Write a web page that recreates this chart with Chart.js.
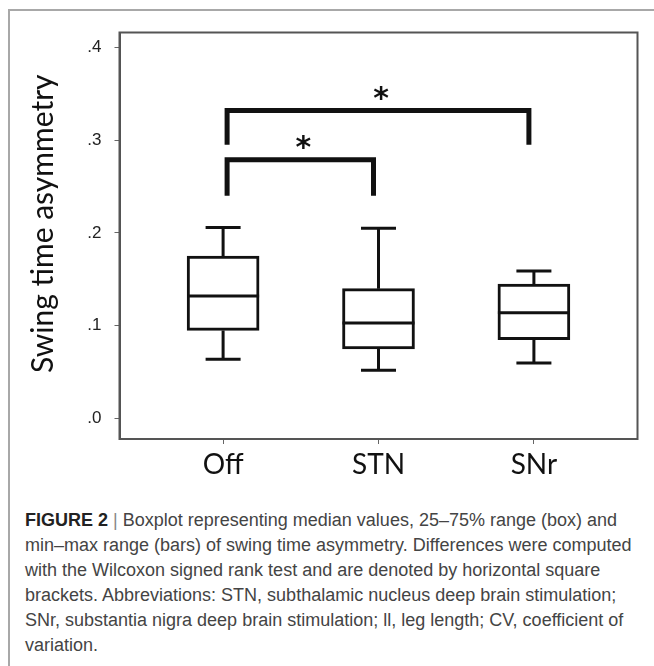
<!DOCTYPE html>
<html>
<head>
<meta charset="utf-8">
<script src="https://cdn.jsdelivr.net/npm/chart.js@4/dist/chart.umd.min.js"></script>
<style>
  html, body { margin: 0; padding: 0; background: #fff; }
  body { width: 654px; height: 666px; position: relative; overflow: hidden; }
  #frame { position: absolute; left: 8px; top: 9px; width: 700px; height: 700px;
           border-top: 2px solid #a8a8a8; border-left: 2px solid #a8a8a8; }
  #chartBox { position: absolute; left: 0; top: 0; width: 654px; height: 490px; }
  #caption { position: absolute; left: 25px; top: 508px; width: 625px;
             font-family: "Liberation Sans", Arial, sans-serif; font-size: 18px;
             line-height: 25px; color: #444; white-space: nowrap; }
  #caption b { color: #222; }
  #caption .sep { color: #888; font-weight: normal; }
</style>
</head>
<body>
<div id="frame"></div>
<div id="chartBox"><canvas id="boxChart" width="654" height="490"></canvas></div>
<div id="caption">
  <b>FIGURE 2</b> <span class="sep">|</span> Boxplot representing median values, 25–75% range (box) and<br>
  min–max range (bars) of swing time asymmetry. Differences were computed<br>
  with the Wilcoxon signed rank test and are denoted by horizontal square<br>
  brackets. Abbreviations: STN, subthalamic nucleus deep brain stimulation;<br>
  SNr, substantia nigra deep brain stimulation; ll, leg length; CV, coefficient of<br>
  variation.
</div>
<script>
// boxplot values
const categories = ["Off", "STN", "SNr"];
const whiskerMin = [0.064, 0.052, 0.060];
const q1 = [0.095, 0.075, 0.085];
const median = [0.132, 0.103, 0.114];
const q3 = [0.175, 0.140, 0.145];
const whiskerMax = [0.206, 0.205, 0.159];
const yTicks = [0, 0.1, 0.2, 0.3, 0.4];
const yTitle = "Swing time asymmetry";

// significance brackets
const bracketFrom = [0, 0];
const bracketTo = [1, 2];
const bracketTop = [0.279, 0.332];
const bracketFoot = [0.240, 0.295];
const bracketLabel = ["*", "*"];

const boxExtras = {
    id: "boxExtras",
    afterDatasetsDraw(chart) {
        const c = chart.ctx;
        const x = chart.scales.x;
        const y = chart.scales.y;
        const half = 36;
        const cap = 17.5;

        c.save();
        c.strokeStyle = "#111";
        c.lineCap = "butt";

        categories.forEach((name, i) => {
            const cx = x.getPixelForValue(i);
            c.lineWidth = 3;
            // median
            c.beginPath();
            c.moveTo(cx - half, y.getPixelForValue(median[i]));
            c.lineTo(cx + half, y.getPixelForValue(median[i]));
            c.stroke();
            // whiskers
            c.beginPath();
            c.moveTo(cx, y.getPixelForValue(q3[i]));
            c.lineTo(cx, y.getPixelForValue(whiskerMax[i]));
            c.moveTo(cx, y.getPixelForValue(q1[i]));
            c.lineTo(cx, y.getPixelForValue(whiskerMin[i]));
            c.moveTo(cx - cap, y.getPixelForValue(whiskerMax[i]));
            c.lineTo(cx + cap, y.getPixelForValue(whiskerMax[i]));
            c.moveTo(cx - cap, y.getPixelForValue(whiskerMin[i]));
            c.lineTo(cx + cap, y.getPixelForValue(whiskerMin[i]));
            c.stroke();
        });

        // brackets
        c.lineWidth = 5;
        c.lineJoin = "miter";
        c.fillStyle = "#111";
        c.font = "bold 30px 'DejaVu Sans'";
        c.textAlign = "center";
        c.textBaseline = "middle";
        bracketFrom.forEach((from, k) => {
            const x1 = x.getPixelForValue(from) + 4;
            const x2 = x.getPixelForValue(bracketTo[k]) - 5;
            const yt = y.getPixelForValue(bracketTop[k]);
            const yf = y.getPixelForValue(bracketFoot[k]);
            c.beginPath();
            c.moveTo(x1, yf);
            c.lineTo(x1, yt);
            c.lineTo(x2, yt);
            c.lineTo(x2, yf);
            c.stroke();
            c.fillText(bracketLabel[k], (x1 + x2) / 2 + 3, yt - 10);
        });

        // plot frame
        const a = chart.chartArea;
        c.lineWidth = 2;
        c.strokeStyle = "#555";
        c.strokeRect(a.left, a.top, a.right - a.left, a.bottom - a.top);

        // y axis title
        c.translate(43, (a.top + a.bottom) / 2 - 12);
        c.rotate(-Math.PI / 2);
        c.font = "30px Lato";
        c.fillStyle = "#111";
        c.textBaseline = "middle";
        c.fillText(yTitle, 0, 0);
        c.restore();
    }
};

document.addEventListener("DOMContentLoaded", () => {
    const canvas = document.getElementById("boxChart");

    new Chart(canvas, {
        type: "bar",
        data: {
            datasets: [{
                data: categories.map((name, i) => ({ x: i, y: [q1[i], q3[i]] })),
                backgroundColor: "#ffffff",
                borderColor: "#111",
                borderWidth: 3,
                borderSkipped: false,
                barThickness: 72
            }]
        },
        options: {
            responsive: false,
            animation: false,
            layout: { padding: { top: 32.5, right: 16.5, left: 0, bottom: 0 } },
            plugins: { legend: { display: false }, tooltip: { enabled: false } },
            scales: {
                x: {
                    type: "linear",
                    offset: false,
                    min: -2 / 3,
                    max: 8 / 3,
                    afterBuildTicks: (s) => { s.ticks = categories.map((n, i) => ({ value: i })); },
                    afterFit: (s) => { s.height = 51; },
                    ticks: {
                        callback: (v) => categories[v],
                        font: { family: "Lato", size: 28 },
                        color: "#111",
                        padding: 4,
                        autoSkip: false,
                        maxRotation: 0,
                        includeBounds: false
                    },
                    grid: { offset: false, drawOnChartArea: false, tickLength: 5, color: "#666" },
                    border: { color: "#555", width: 2 }
                },
                y: {
                    min: -0.022,
                    max: 0.416,
                    afterBuildTicks: (s) => { s.ticks = yTicks.map((v) => ({ value: v })); },
                    afterFit: (s) => { s.width = 119.5; },
                    ticks: {
                        callback: (v) => v.toFixed(1).replace(/^0/, ""),
                        font: { family: "Liberation Sans", size: 17 },
                        color: "#222",
                        padding: 13,
                        includeBounds: false
                    },
                    grid: { drawOnChartArea: false, tickLength: 5, color: "#666" },
                    border: { color: "#555", width: 2 }
                }
            }
        },
        plugins: [boxExtras]
    });
});
</script>
</body>
</html>
